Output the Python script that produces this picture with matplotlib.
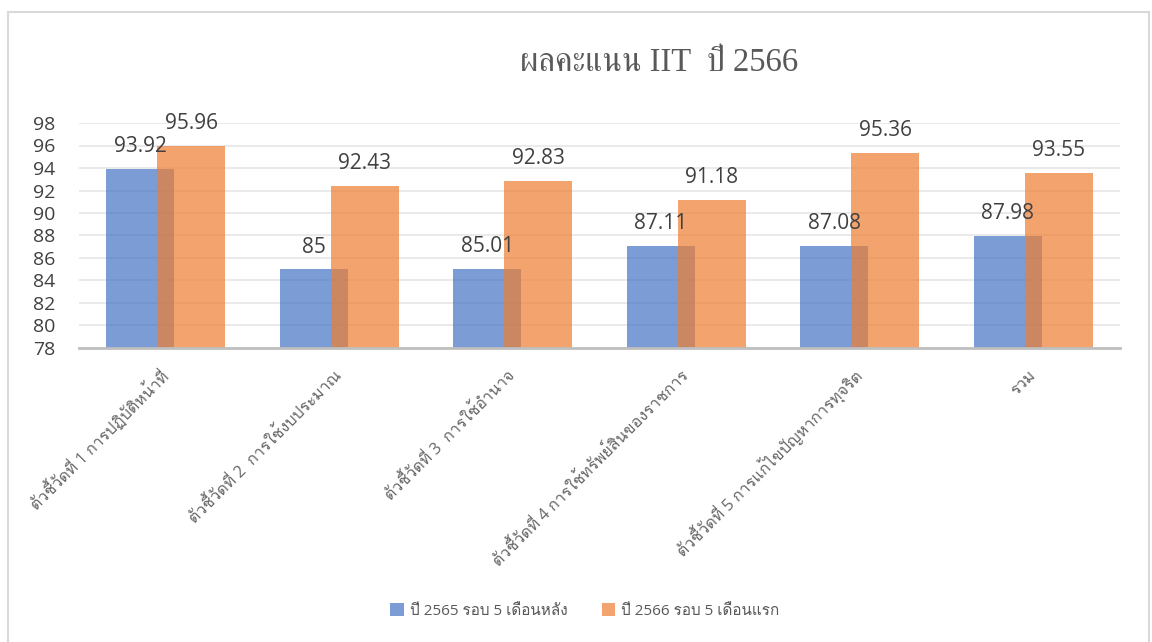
import matplotlib
matplotlib.use("Agg")
import matplotlib.pyplot as plt
from matplotlib import font_manager as fm
from matplotlib.patches import Rectangle
import numpy as np

# ---------------- data ----------------
categories = [
    "ตัวชี้วัดที่ 1 การปฏิบัติหน้าที่",
    "ตัวชี้วัดที่ 2  การใช้งบประมาณ",
    "ตัวชี้วัดที่ 3  การใช้อำนาจ",
    "ตัวชี้วัดที่ 4 การใช้ทรัพย์สินของราชการ",
    "ตัวชี้วัดที่ 5 การแก้ไขปัญหาการทุจริต",
    "รวม",
]
series_2565 = [93.92, 85, 85.01, 87.11, 87.08, 87.98]
series_2566 = [95.96, 92.43, 92.83, 91.18, 95.36, 93.55]
labels_2565 = ["93.92", "85", "85.01", "87.11", "87.08", "87.98"]
labels_2566 = ["95.96", "92.43", "92.83", "91.18", "95.36", "93.55"]
series_names = ["ปี 2565 รอบ 5 เดือนหลัง", "ปี 2566 รอบ 5 เดือนแรก"]
title_text = "ผลคะแนน IIT  ปี 2566"
y_ticks = list(range(78, 99, 2))

# ---------------- fonts ----------------
def find_thai_fonts():
    found = []
    try:
        from fontTools.ttLib import TTFont
    except Exception:
        return found
    for f in fm.fontManager.ttflist:
        try:
            tt = TTFont(f.fname, fontNumber=0, lazy=True)
            cmap = tt.getBestCmap()
            if cmap and 0x0E01 in cmap and 0x0E35 in cmap:
                if f.name not in found:
                    found.append(f.name)
        except Exception:
            pass
    return found

thai_fonts = find_thai_fonts()

def pick(prefs):
    for p in prefs:
        if p in thai_fonts:
            return p
    return thai_fonts[0] if thai_fonts else "DejaVu Sans"

thai_sans = pick(["Loma", "Garuda", "Noto Sans Thai Looped", "Anuphan"])
thai_serif = pick(["Norasi", "Kinnari", "FreeSerif", "Loma"])
sans = ["Open Sans", thai_sans, "DejaVu Sans"]
serif = ["Liberation Serif", thai_serif, "DejaVu Sans"]

# ---------------- figure ----------------
fig = plt.figure(figsize=(11.52, 6.42), dpi=100)
W, H = 1152, 642

# outer chart frame
fig.patches.append(Rectangle((8 / W, -0.05), (1149 - 8) / W, 1.05 - 12 / H,
                             transform=fig.transFigure, fill=False,
                             edgecolor="#d9d9d9", linewidth=1.5))

ax = fig.add_axes([79 / W, 1 - 348 / H, (1120 - 79) / W, 225 / H])

x = np.arange(len(categories))
bw = 0.392
off = 0.147
c_blue = "#4472C4"
c_orange = "#ED7D31"
b1 = ax.bar(x - off, series_2565, bw, color=c_blue, alpha=0.7,
            label=series_names[0], zorder=2)
b2 = ax.bar(x + off, series_2566, bw, color=c_orange, alpha=0.7,
            label=series_names[1], zorder=3)

for xs, vals, texts in ((x - off, series_2565, labels_2565),
                        (x + off, series_2566, labels_2566)):
    for xi, v, t in zip(xs, vals, texts):
        ax.annotate(t, (xi, v), xytext=(0, 16), textcoords="offset points",
                    ha="center", va="center", fontsize=15, color="#404040",
                    family=sans, zorder=5, annotation_clip=False)

ax.set_xlim(-0.5, len(categories) - 0.5)
ax.set_ylim(78, 98)
ax.set_yticks(y_ticks)
ax.set_yticklabels([str(t) for t in y_ticks], family=sans, fontsize=14,
                   color="#404040")
ax.tick_params(axis="y", length=0, pad=17)
ax.set_xticks(x)
ax.set_xticklabels(categories, rotation=45, ha="right", va="center",
                   rotation_mode="anchor", family=sans, fontsize=11.6,
                   color="#666666")
ax.tick_params(axis="x", length=0, pad=18)

ax.grid(axis="y", color="#e8e8e8", linewidth=1.3, zorder=0)
ax.set_axisbelow(True)
for s in ["top", "right", "left"]:
    ax.spines[s].set_visible(False)
ax.spines["bottom"].set_color("#bfbfbf")
ax.spines["bottom"].set_linewidth(2)
ax.spines["bottom"].set_zorder(6)

fig.text(659 / W, 1 - 63 / H, title_text, ha="center", va="center",
         fontsize=23.5, color="#595959", family=serif)

leg = fig.legend(handles=[b1, b2], labels=series_names, loc="center",
                 bbox_to_anchor=(585 / W, 1 - 611 / H), ncol=2, frameon=False,
                 prop=fm.FontProperties(family=sans, size=11),
                 handlelength=0.9, handleheight=0.9, handletextpad=0.4,
                 columnspacing=2.2, labelcolor="#595959")

fig.savefig("out.png", dpi=100)
